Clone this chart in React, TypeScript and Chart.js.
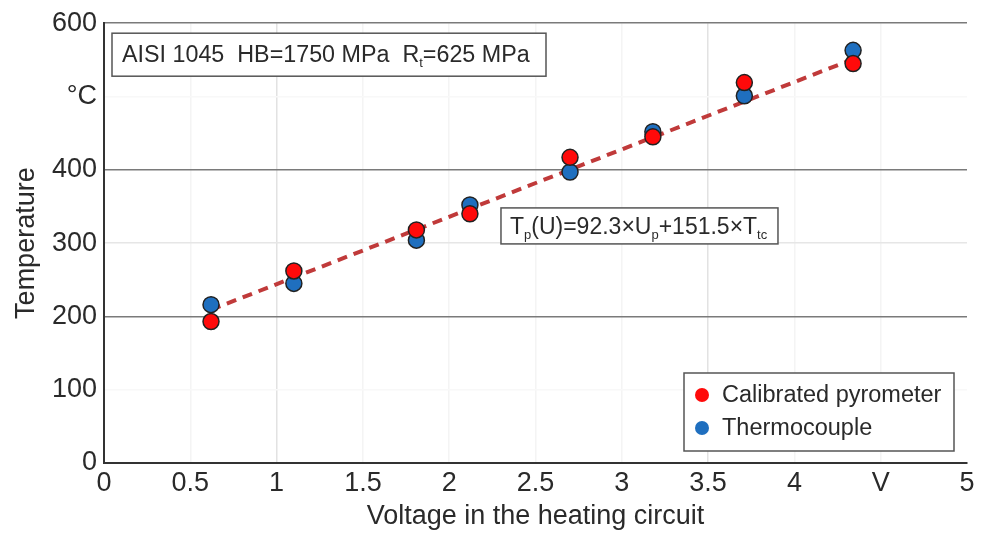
import React, { useEffect, useRef } from 'react';
import { Chart, registerables } from 'chart.js';

Chart.register(...registerables);

// ---- data ----
const voltage = [0.62, 1.1, 1.81, 2.12, 2.7, 3.18, 3.71, 4.34];
const pyrometer = [193, 262, 318, 340, 417, 445, 519, 545];
const thermocouple = [216, 245, 304, 352, 397, 452, 501, 563];
const trendVoltage = [0.62, 4.34];
const trendTemp = [209, 551];
const xTickLabels = ['0', '0.5', '1', '1.5', '2', '2.5', '3', '3.5', '4', 'V', '5'];
const yTickLabels = ['0', '100', '200', '300', '400', '°C', '600'];
const seriesNames = ['Calibrated pyrometer', 'Thermocouple'];

const FONT = "'Liberation Sans', Arial, sans-serif";
const TEXT = '#2a2a2a';
const RED = '#ff0a0a';
const BLUE = '#1f6fbf';
const TREND = '#c03a3a';

type Seg = { t: string; sub?: boolean };

function drawSegs(ctx: CanvasRenderingContext2D, segs: Seg[], x: number, y: number, size: number, subSize: number) {
  let cx = x;
  for (const s of segs) {
    ctx.font = `${s.sub ? subSize : size}px ${FONT}`;
    ctx.fillText(s.t, cx, s.sub ? y + 5 : y);
    cx += ctx.measureText(s.t).width;
  }
}

const annotations = {
  id: 'annotations',
  afterDraw(chart: any) {
    const { ctx, chartArea: a, scales } = chart;
    const xs = scales.x;
    const ys = scales.y;
    ctx.save();
    ctx.fillStyle = TEXT;
    ctx.textBaseline = 'alphabetic';
    ctx.textAlign = 'left';

    // Box 1: material info
    const b1x = a.left + 8, b1y = a.top + 10, b1w = 434, b1h = 43;
    ctx.fillStyle = '#ffffff';
    ctx.fillRect(b1x, b1y, b1w, b1h);
    ctx.strokeStyle = '#555555';
    ctx.lineWidth = 1.5;
    ctx.strokeRect(b1x, b1y, b1w, b1h);
    ctx.fillStyle = TEXT;
    drawSegs(ctx, [
      { t: 'AISI 1045  HB=1750 MPa  R' },
      { t: 't', sub: true },
      { t: '=625 MPa' },
    ], b1x + 10, b1y + 29, 23.3, 13);

    // Box 2: formula
    const b2x = xs.getPixelForValue(2.3), b2y = ys.getPixelForValue(348);
    const b2w = 277, b2h = 36;
    ctx.fillStyle = '#ffffff';
    ctx.fillRect(b2x, b2y, b2w, b2h);
    ctx.strokeStyle = '#555555';
    ctx.strokeRect(b2x, b2y, b2w, b2h);
    ctx.fillStyle = TEXT;
    drawSegs(ctx, [
      { t: 'T' },
      { t: 'p', sub: true },
      { t: '(U)=92.3×U' },
      { t: 'p', sub: true },
      { t: '+151.5×T' },
      { t: 'tc', sub: true },
    ], b2x + 9, b2y + 26, 23, 13);

    // Legend box
    const lw = 270, lh = 78;
    const lx = a.right - 13 - lw, ly = a.bottom - 12 - lh;
    ctx.fillStyle = '#ffffff';
    ctx.fillRect(lx, ly, lw, lh);
    ctx.strokeStyle = '#555555';
    ctx.strokeRect(lx, ly, lw, lh);
    const colors = [RED, BLUE];
    seriesNames.forEach((name, i) => {
      const cy = ly + 22 + i * 33;
      ctx.beginPath();
      ctx.arc(lx + 18, cy, 7, 0, Math.PI * 2);
      ctx.fillStyle = colors[i];
      ctx.fill();
      ctx.fillStyle = TEXT;
      ctx.font = `23.5px ${FONT}`;
      ctx.textBaseline = 'middle';
      ctx.fillText(name, lx + 38, cy + 1);
    });
    ctx.restore();
  },
};

export default function App() {
  const ref = useRef<HTMLCanvasElement | null>(null);

  useEffect(() => {
    document.body.style.margin = '0';
    const canvas = ref.current;
    if (!canvas) return;

    const gridColorY = (v: number) => {
      if (v === 0) return 'rgba(0,0,0,0)';
      if (v === 200 || v === 400 || v === 600) return '#7a7a7a';
      if (v === 300) return '#e6e6e6';
      return '#f8f8f8';
    };
    const gridColorX = (v: number) => {
      if (v === 0 || v === 5) return 'rgba(0,0,0,0)';
      if (Math.abs(v - 1) < 1e-6 || Math.abs(v - 3.5) < 1e-6) return '#e2e2e2';
      return '#f4f4f4';
    };

    const chart = new Chart(canvas, {
      type: 'scatter',
      data: {
        datasets: [
          {
            label: seriesNames[0],
            data: voltage.map((v, i) => ({ x: v, y: pyrometer[i] })),
            backgroundColor: RED,
            borderColor: '#222222',
            borderWidth: 1.5,
            pointRadius: 8,
            order: 0,
          },
          {
            label: seriesNames[1],
            data: voltage.map((v, i) => ({ x: v, y: thermocouple[i] })),
            backgroundColor: BLUE,
            borderColor: '#222222',
            borderWidth: 1.5,
            pointRadius: 8,
            order: 0,
          },
          {
            type: 'line',
            label: 'Fit',
            data: trendVoltage.map((v, i) => ({ x: v, y: trendTemp[i] })),
            borderColor: TREND,
            borderWidth: 4,
            borderDash: [10, 7],
            pointRadius: 0,
            fill: false,
            showLine: true,
            order: 1,
          } as any,
        ],
      },
      options: {
        responsive: false,
        animation: false,
        layout: { padding: { top: 22, right: 22, bottom: 0, left: 0 } },
        plugins: {
          legend: { display: false },
          tooltip: { enabled: false },
        },
        scales: {
          x: {
            type: 'linear',
            min: 0,
            max: 5,
            afterFit: (s: any) => { s.height = 72; },
            ticks: {
              stepSize: 0.5,
              autoSkip: false,
              maxRotation: 0,
              padding: 4,
              color: TEXT,
              font: { family: FONT, size: 27 },
              callback: (_v: any, i: number) => xTickLabels[i],
            },
            grid: {
              drawTicks: false,
              color: (c: any) => gridColorX(c.tick.value),
              lineWidth: 1.5,
            },
            border: { color: '#333333', width: 2 },
            title: {
              display: true,
              text: 'Voltage in the heating circuit',
              color: TEXT,
              font: { family: FONT, size: 27 },
              padding: { top: 0, bottom: 2 },
            },
          },
          y: {
            type: 'linear',
            min: 0,
            max: 600,
            afterFit: (s: any) => { s.width = 104; },
            ticks: {
              stepSize: 100,
              padding: 7,
              color: TEXT,
              font: { family: FONT, size: 27 },
              callback: (_v: any, i: number) => yTickLabels[i],
            },
            grid: {
              drawTicks: false,
              color: (c: any) => gridColorY(c.tick.value),
              lineWidth: 1.5,
            },
            border: { color: '#333333', width: 2 },
            title: {
              display: true,
              text: 'Temperature',
              color: TEXT,
              font: { family: FONT, size: 27 },
              padding: { top: 10, bottom: 0 },
            },
          },
        },
      },
      plugins: [annotations],
    });

    return () => chart.destroy();
  }, []);

  return (
    <div style={{ width: 989, height: 535 }}>
      <canvas ref={ref} width={989} height={535} style={{ display: 'block' }} />
    </div>
  );
}
